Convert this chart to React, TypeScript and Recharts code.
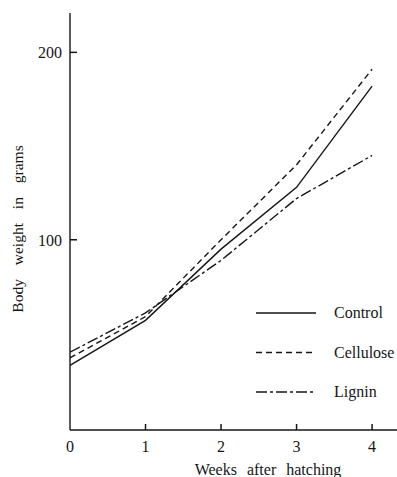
import React from "react";
import { LineChart, Line, XAxis, YAxis } from "recharts";

// Weeks after hatching
const weeks = [0, 1, 2, 3, 4];
// Body weight (g) per diet group
const control = [33, 57, 95, 128, 182];
const cellulose = [37, 59, 100, 140, 191];
const lignin = [40, 61, 89, 122, 145];

const xTicks = [0, 1, 2, 3, 4];
const yTicks = [100, 200];

const seriesNames = ["Control", "Cellulose", "Lignin"];
const seriesDash = ["", "6 4", "11 3 3 3"];
const seriesKeys = ["control", "cellulose", "lignin"];

const data = weeks.map((w, i) => ({
  week: w,
  control: control[i],
  cellulose: cellulose[i],
  lignin: lignin[i],
}));

const FONT = "Liberation Serif, Times New Roman, DejaVu Serif, serif";
const INK = "#161616";
const textStyle = { fontFamily: FONT };

// Bottom axis sits at the top edge of the XAxis band; inward marks point up from it
const XTick = (props: any) => {
  const { x, payload, viewBox } = props;
  const axisY = viewBox ? viewBox.y : 430;
  return (
    <g>
      {payload.value !== 0 && (
        <path d={`M${x},${axisY}v-6`} stroke={INK} strokeWidth={1.5} fill="none" />
      )}
      <text
        x={x}
        y={axisY + 22}
        textAnchor="middle"
        fontSize={16}
        fill={INK}
        style={textStyle}
      >
        {payload.value}
      </text>
    </g>
  );
};

// Left axis sits at the right edge of the YAxis band; inward marks point right
const YTick = (props: any) => {
  const { y, payload, viewBox } = props;
  const axisX = viewBox ? viewBox.x + viewBox.width : 70;
  return (
    <g>
      <path d={`M${axisX},${y}h7`} stroke={INK} strokeWidth={1.5} fill="none" />
      <text
        x={axisX - 8}
        y={y + 6}
        textAnchor="end"
        fontSize={16}
        fill={INK}
        style={textStyle}
      >
        {payload.value}
      </text>
    </g>
  );
};

const YLabel = () => (
  <text
    x={23}
    y={229}
    transform="rotate(-90, 23, 229)"
    textAnchor="middle"
    fontSize={15.5}
    fill={INK}
    style={{ ...textStyle, wordSpacing: "10px" }}
  >
    Body weight in grams
  </text>
);

const XLabel = () => (
  <text
    x={268}
    y={475}
    textAnchor="middle"
    fontSize={16}
    fill={INK}
    style={{ ...textStyle, wordSpacing: "6px" }}
  >
    Weeks after hatching
  </text>
);

const LegendBox = () => (
  <svg
    width={397}
    height={477}
    style={{ position: "absolute", left: 0, top: 0, pointerEvents: "none" }}
  >
    {seriesNames.map((name, i) => {
      const y = 313 + i * 39.5;
      return (
        <g key={name}>
          <line
            x1={256}
            y1={y}
            x2={316}
            y2={y}
            stroke={INK}
            strokeWidth={1.4}
            strokeDasharray={seriesDash[i] || undefined}
          />
          <text x={334} y={y + 5} fontSize={16} fill={INK} style={textStyle}>
            {name}
          </text>
        </g>
      );
    })}
  </svg>
);

export default function App() {
  return (
    <div
      style={{
        position: "absolute",
        left: 0,
        top: 0,
        width: 397,
        height: 477,
        background: "#fff",
      }}
    >
      <LineChart
        width={397}
        height={477}
        data={data}
        margin={{ top: 13, right: 0, bottom: 0, left: 10 }}
      >
        <XAxis
          dataKey="week"
          type="number"
          domain={[0, 4.33]}
          ticks={xTicks}
          tickLine={false}
          axisLine={{ stroke: INK, strokeWidth: 1.4 }}
          tick={<XTick />}
          height={47}
          label={<XLabel />}
          allowDataOverflow
        />
        <YAxis
          type="number"
          domain={[-1.5, 221]}
          ticks={yTicks}
          tickLine={false}
          axisLine={{ stroke: INK, strokeWidth: 1.4 }}
          tick={<YTick />}
          width={60}
          label={<YLabel />}
          allowDataOverflow
        />
        {seriesKeys.map((k, i) => (
          <Line
            key={k}
            dataKey={k}
            type="linear"
            stroke={INK}
            strokeWidth={1.4}
            strokeDasharray={seriesDash[i] || undefined}
            dot={false}
            activeDot={false}
            isAnimationActive={false}
          />
        ))}
      </LineChart>
      <LegendBox />
    </div>
  );
}
